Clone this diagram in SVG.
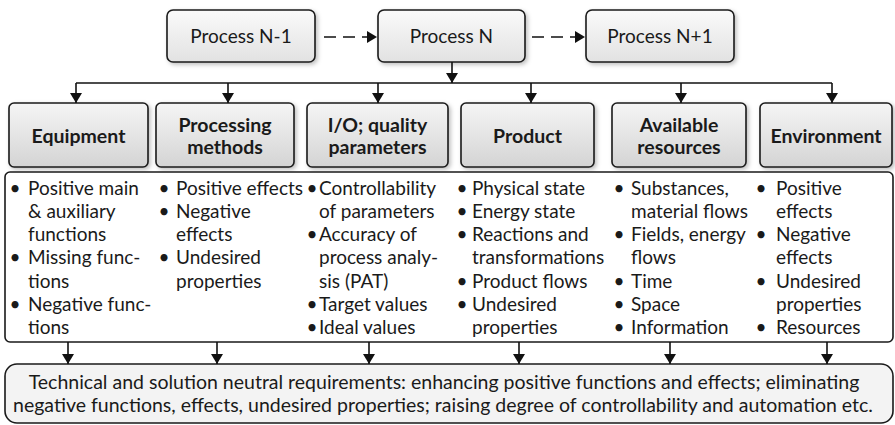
<svg xmlns="http://www.w3.org/2000/svg" width="895" height="425" viewBox="0 0 895 425">
<defs>
<linearGradient id="gHead" x1="0" y1="0" x2="0" y2="1">
<stop offset="0" stop-color="#f5f5f5"/>
<stop offset="1" stop-color="#d4d4d4"/>
</linearGradient>
<linearGradient id="gTop" x1="0" y1="0" x2="0" y2="1">
<stop offset="0" stop-color="#fafafa"/>
<stop offset="1" stop-color="#e2e2e2"/>
</linearGradient>
<filter id="sh" x="-10%" y="-10%" width="125%" height="130%">
<feDropShadow dx="2" dy="2" stdDeviation="2" flood-color="#000" flood-opacity="0.25"/>
</filter>
<marker id="ah" markerWidth="10" markerHeight="12" refX="10" refY="6" orient="auto" markerUnits="userSpaceOnUse">
<path d="M0,0 L10,6 L0,12 Z" fill="#111"/>
</marker>
</defs>
<style>
.box{stroke:#1a1a1a;stroke-width:1.6}
.top{fill:url(#gTop)}
.head{fill:url(#gHead)}
.t{font-family:Lato,"Open Sans",sans-serif;font-size:19px;fill:#1a1a1a}
.b{font-size:19.5px}
.h{font-family:Lato,"Open Sans",sans-serif;font-size:19.5px;font-weight:bold;fill:#1a1a1a;text-anchor:middle}
.c{text-anchor:middle}
.ln{stroke:#111;stroke-width:1.6;fill:none}
.ar{marker-end:url(#ah)}
.da{stroke-dasharray:12 7}
</style>

<g id="process-n-1">
<rect class="box top" x="167" y="10" width="148" height="52" rx="6" filter="url(#sh)"/>
<text class="t c" x="241" y="43">Process N-1</text>
</g>
<g id="process-n">
<rect class="box top" x="378" y="10" width="147" height="52" rx="6" filter="url(#sh)"/>
<text class="t c" x="451.5" y="43">Process N</text>
</g>
<g id="process-n-plus-1">
<rect class="box top" x="586" y="10" width="148" height="52" rx="6" filter="url(#sh)"/>
<text class="t c" x="660" y="43">Process N+1</text>
</g>

<g id="equipment">
<rect class="box head" x="9" y="103" width="139" height="64" rx="5" filter="url(#sh)"/>
<text class="h" x="78.5" y="143">Equipment</text>
</g>
<g id="processing-methods">
<rect class="box head" x="156" y="103" width="138" height="64" rx="5" filter="url(#sh)"/>
<text class="h" x="225" y="132">Processing</text>
<text class="h" x="225" y="154">methods</text>
</g>
<g id="io-quality">
<rect class="box head" x="307" y="103" width="141" height="64" rx="5" filter="url(#sh)"/>
<text class="h" x="377.5" y="132">I/O; quality</text>
<text class="h" x="377.5" y="154">parameters</text>
</g>
<g id="product">
<rect class="box head" x="461" y="103" width="133" height="64" rx="5" filter="url(#sh)"/>
<text class="h" x="527.5" y="143">Product</text>
</g>
<g id="available-resources">
<rect class="box head" x="612" y="103" width="134" height="64" rx="5" filter="url(#sh)"/>
<text class="h" x="679" y="132">Available</text>
<text class="h" x="679" y="154">resources</text>
</g>
<g id="environment">
<rect class="box head" x="760" y="103" width="132" height="64" rx="5" filter="url(#sh)"/>
<text class="h" x="826" y="143">Environment</text>
</g>

<g id="details">
<rect class="box" x="5" y="172" width="888" height="170" rx="5" fill="#fff"/>
<g class="t">
<text class="c" x="15" y="195">•</text><text x="28" y="195">Positive main</text>
<text x="28" y="218">&amp; auxiliary</text>
<text x="28" y="241">functions</text>
<text class="c" x="15" y="264">•</text><text x="28" y="264">Missing func-</text>
<text x="28" y="288">tions</text>
<text class="c" x="15" y="311">•</text><text x="28" y="311">Negative func-</text>
<text x="28" y="334">tions</text>

<text class="c" x="164" y="195">•</text><text x="176" y="195">Positive effects</text>
<text class="c" x="164" y="218">•</text><text x="176" y="218">Negative</text>
<text x="176" y="241">effects</text>
<text class="c" x="164" y="264">•</text><text x="176" y="264">Undesired</text>
<text x="176" y="288">properties</text>

<text class="c" x="312" y="195">•</text><text x="319" y="195">Controllability</text>
<text x="319" y="218">of parameters</text>
<text class="c" x="312" y="241">•</text><text x="319" y="241">Accuracy of</text>
<text x="319" y="264">process analy-</text>
<text x="319" y="288">sis (PAT)</text>
<text class="c" x="312" y="311">•</text><text x="319" y="311">Target values</text>
<text class="c" x="312" y="334">•</text><text x="319" y="334">Ideal values</text>

<text class="c" x="462" y="195">•</text><text x="472" y="195">Physical state</text>
<text class="c" x="462" y="218">•</text><text x="472" y="218">Energy state</text>
<text class="c" x="462" y="241">•</text><text x="472" y="241">Reactions and</text>
<text x="472" y="264">transformations</text>
<text class="c" x="462" y="288">•</text><text x="472" y="288">Product flows</text>
<text class="c" x="462" y="311">•</text><text x="472" y="311">Undesired</text>
<text x="472" y="334">properties</text>

<text class="c" x="619" y="195">•</text><text x="631" y="195">Substances,</text>
<text x="631" y="218">material flows</text>
<text class="c" x="619" y="241">•</text><text x="631" y="241">Fields, energy</text>
<text x="631" y="264">flows</text>
<text class="c" x="619" y="288">•</text><text x="631" y="288">Time</text>
<text class="c" x="619" y="311">•</text><text x="631" y="311">Space</text>
<text class="c" x="619" y="334">•</text><text x="631" y="334">Information</text>

<text class="c" x="761" y="195">•</text><text x="776" y="195">Positive</text>
<text x="776" y="218">effects</text>
<text class="c" x="761" y="241">•</text><text x="776" y="241">Negative</text>
<text x="776" y="264">effects</text>
<text class="c" x="761" y="288">•</text><text x="776" y="288">Undesired</text>
<text x="776" y="311">properties</text>
<text class="c" x="761" y="334">•</text><text x="776" y="334">Resources</text>
</g>
</g>

<g id="requirements">
<rect class="box" x="5" y="364" width="888" height="59" rx="12" fill="#f3f3f3"/>
<text class="t b c" x="444" y="389">Technical and solution neutral requirements: enhancing positive functions and effects; eliminating</text>
<text class="t b c" x="443" y="412">negative functions, effects, undesired properties; raising degree of controllability and automation etc.</text>
</g>

<g id="connectors">
<line class="ln da ar" x1="324" y1="37" x2="377" y2="37"/>
<line class="ln da ar" x1="532" y1="37" x2="585" y2="37"/>
<line class="ln ar" x1="452" y1="62" x2="452" y2="83"/>
<line class="ln" x1="76" y1="83" x2="832" y2="83"/>
<line class="ln ar" x1="76" y1="83" x2="76" y2="103"/>
<line class="ln ar" x1="228" y1="83" x2="228" y2="103"/>
<line class="ln ar" x1="378" y1="83" x2="378" y2="103"/>
<line class="ln ar" x1="531" y1="83" x2="531" y2="103"/>
<line class="ln ar" x1="681" y1="83" x2="681" y2="103"/>
<line class="ln ar" x1="832" y1="83" x2="832" y2="103"/>
<line class="ln ar" x1="68" y1="342" x2="68" y2="364"/>
<line class="ln ar" x1="217" y1="342" x2="217" y2="364"/>
<line class="ln ar" x1="369" y1="342" x2="369" y2="364"/>
<line class="ln ar" x1="519" y1="342" x2="519" y2="364"/>
<line class="ln ar" x1="670" y1="342" x2="670" y2="364"/>
<line class="ln ar" x1="827" y1="342" x2="827" y2="364"/>
</g>
</svg>
